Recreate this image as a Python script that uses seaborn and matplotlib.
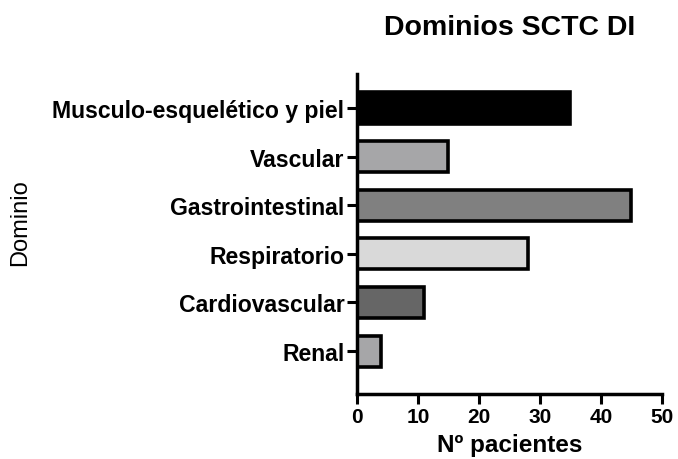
import matplotlib
matplotlib.use("Agg")
import matplotlib.pyplot as plt
import seaborn as sns
import pandas as pd

# Data
dominios = ["Musculo-esquelético y piel", "Vascular", "Gastrointestinal",
            "Respiratorio", "Cardiovascular", "Renal"]
pacientes = [35, 15, 45, 28, 11, 4]
colores = ["#000000", "#a6a6a8", "#808080", "#d9d9d9", "#666666", "#a6a6a8"]
xticks = [0, 10, 20, 30, 40, 50]

df = pd.DataFrame({"Dominio": dominios, "Pacientes": pacientes})

sns.set_style("white")
plt.rcParams['font.family'] = ['Liberation Sans', 'DejaVu Sans']
plt.rcParams['text.color'] = 'black'
plt.rcParams['axes.labelcolor'] = 'black'
plt.rcParams['xtick.color'] = 'black'
plt.rcParams['ytick.color'] = 'black'

fig = plt.figure(figsize=(6.78, 4.6), dpi=100)
ax = fig.add_axes([0.5265, 0.141, 0.4495, 0.696])

sns.barplot(data=df, y="Dominio", x="Pacientes", hue="Dominio",
            palette=colores, legend=False, orient="h", width=0.64,
            edgecolor="black", linewidth=2.6, ax=ax)

ax.set_xlim(0, 50)
ax.set_ylim(5.885, -0.7)
ax.set_xticks(xticks)
ax.set_xticklabels([str(t) for t in xticks], fontsize=15, fontweight="bold")
for lbl in ax.get_yticklabels():
    lbl.set_fontsize(16.6)
    lbl.set_fontweight("bold")

for side in ["top", "right"]:
    ax.spines[side].set_visible(False)
for side in ["left", "bottom"]:
    ax.spines[side].set_linewidth(2.5)
    ax.spines[side].set_color("black")
ax.tick_params(axis="both", length=7, width=2.2, color="black", direction="out",
               bottom=True, left=True, pad=2)

ax.set_xlabel("Nº pacientes", fontsize=17.5, fontweight="bold", labelpad=5)
ax.set_ylabel("")
fig.text(0.03, 0.517, "Dominio", rotation=90, fontsize=17, va="center", ha="center")
fig.text(0.752, 0.94, "Dominios SCTC DI", fontsize=20.5, fontweight="bold",
         ha="center", va="center")

fig.savefig("out.png", dpi=100)
